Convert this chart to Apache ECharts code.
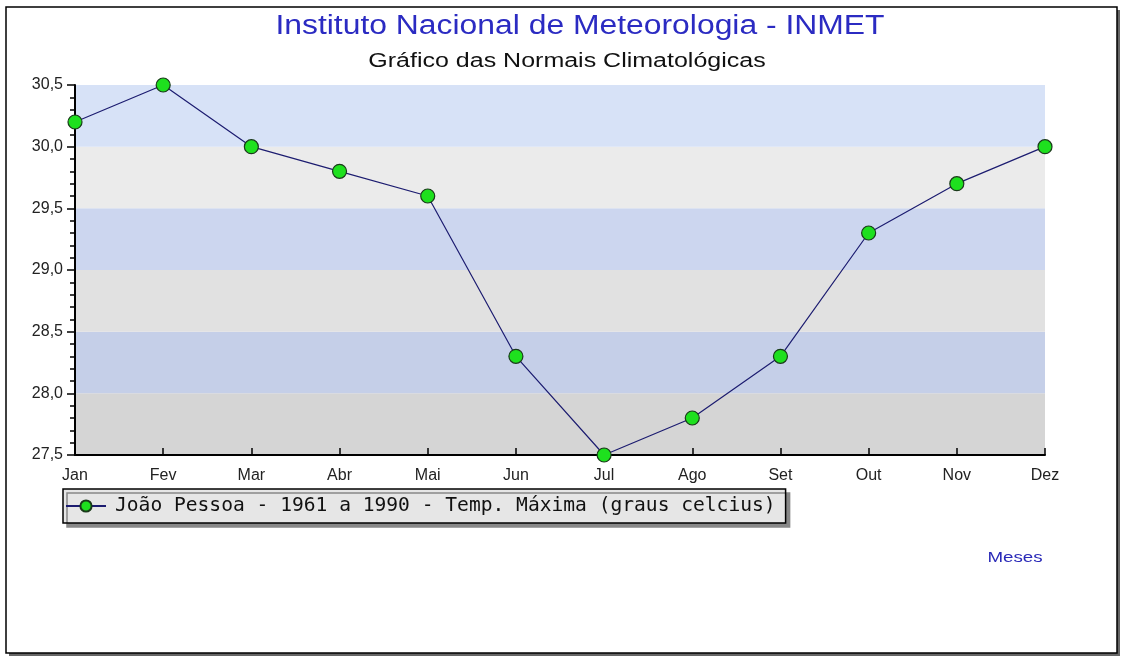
<!DOCTYPE html>
<html>
<head>
<meta charset="utf-8">
<script src="https://cdn.jsdelivr.net/npm/echarts@6/dist/echarts.min.js"></script>
<style>
html, body { margin: 0; padding: 0; background: #fff; }
#main { width: 1126px; height: 658px; }
</style>
</head>
<body>
<div id="main"></div>
<script>
// normais climatologicas - Joao Pessoa
var meses = ['Jan','Fev','Mar','Abr','Mai','Jun','Jul','Ago','Set','Out','Nov','Dez'];
var tempMax = [30.2, 30.5, 30.0, 29.8, 29.6, 28.3, 27.5, 27.8, 28.3, 29.3, 29.7, 30.0];
var yMin = 27.5;
var yMax = 30.5;
var yStep = 0.5;

(function(){

var myChart = echarts.init(document.getElementById('main'));
var sans = '"Liberation Sans", Arial, sans-serif';

option = {
    backgroundColor: '#fff',
    animation: false,
    graphic: [
        // moldura com sombra
        {
            type: 'rect',
            shape: { x: 9, y: 10, width: 1111, height: 646 },
            style: { fill: '#666' },
            z: -20
        },
        {
            type: 'rect',
            shape: { x: 6, y: 7, width: 1111, height: 646 },
            style: { fill: '#fff', stroke: '#000', lineWidth: 1.5 },
            z: -19
        },
        {
            type: 'text',
            x: 580,
            y: 27,
            scaleX: 1.18,
            style: {
                text: 'Instituto Nacional de Meteorologia - INMET',
                fill: '#2b2bc2',
                font: '27px ' + sans,
                textAlign: 'center',
                textVerticalAlign: 'middle'
            }
        },
        {
            type: 'text',
            x: 567,
            y: 61,
            scaleX: 1.25,
            style: {
                text: 'Gráfico das Normais Climatológicas',
                fill: '#111',
                font: '20px ' + sans,
                textAlign: 'center',
                textVerticalAlign: 'middle'
            }
        },
        {
            type: 'text',
            x: 1015,
            y: 558,
            scaleX: 1.25,
            style: {
                text: 'Meses',
                fill: '#2a2ab8',
                font: '15px ' + sans,
                textAlign: 'center',
                textVerticalAlign: 'middle'
            }
        }
    ],
    legend: {
        left: 63,
        top: 489,
        padding: [7, 10, 7, 2],
        backgroundColor: '#e6e6e6',
        borderColor: '#000',
        borderWidth: 1.5,
        shadowColor: '#888',
        shadowOffsetX: 4,
        shadowOffsetY: 4,
        shadowBlur: 0,
        itemWidth: 40,
        itemHeight: 14,
        itemGap: 10,
        textStyle: {
            fontFamily: '"DejaVu Sans Mono", "Liberation Mono", monospace',
            fontSize: 19.6,
            color: '#111',
            padding: [0, 0, 0, 4]
        },
        data: ['João Pessoa - 1961 a 1990 - Temp. Máxima (graus celcius)']
    },
    grid: {
        left: 75,
        right: 81,
        top: 85,
        bottom: 203
    },
    xAxis: {
        type: 'category',
        boundaryGap: false,
        data: meses,
        axisLine: { lineStyle: { color: '#000', width: 2 } },
        axisTick: { inside: true, length: 7, lineStyle: { color: '#000', width: 1.5 }, alignWithLabel: true },
        axisLabel: {
            color: '#222',
            fontSize: 16,
            margin: 13,
            fontFamily: sans
        }
    },
    yAxis: {
        type: 'value',
        min: yMin,
        max: yMax,
        interval: yStep,
        axisLine: { show: true, lineStyle: { color: '#000', width: 2 } },
        axisTick: { show: true, length: 8, lineStyle: { color: '#000', width: 1.5 } },
        minorTick: { show: true, splitNumber: 5, length: 5, lineStyle: { color: '#000', width: 1.5 } },
        splitLine: { show: false },
        splitArea: {
            show: true,
            areaStyle: {
                color: ['#d5d5d5', '#c5cfe8', '#e1e1e1', '#ccd6ef', '#ebebeb', '#d7e2f7']
            }
        },
        axisLabel: {
            color: '#222',
            fontSize: 16,
            margin: 12,
            fontFamily: sans,
            formatter: function (v) { return v.toFixed(1).replace('.', ','); }
        }
    },
    series: [
        {
            name: 'João Pessoa - 1961 a 1990 - Temp. Máxima (graus celcius)',
            type: 'line',
            data: tempMax,
            symbol: 'circle',
            symbolSize: 14,
            lineStyle: { color: '#1c1c70', width: 1.2 },
            itemStyle: { color: '#1ee01e', borderColor: '#1a3a1a', borderWidth: 1.2 }
        }
    ]
};

myChart.setOption(option);
})();
</script>
</body>
</html>
